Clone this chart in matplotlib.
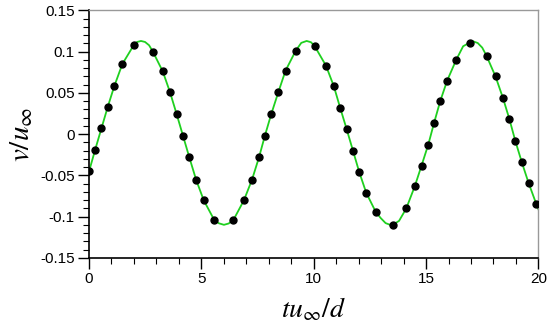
import matplotlib
matplotlib.use("Agg")
import matplotlib.pyplot as plt
from matplotlib.ticker import MultipleLocator

plt.rcParams['font.family'] = ['Liberation Sans', 'DejaVu Sans']
plt.rcParams['mathtext.fontset'] = 'stix'

# Black dots (sampled data)
dot_x = [0.01, 0.28, 0.56, 0.84, 1.13, 1.49, 2.00, 2.85, 3.29, 3.61, 3.91, 4.19,
         4.47, 4.77, 5.11, 5.57, 6.43, 6.90, 7.26, 7.57, 7.83, 8.11, 8.43, 8.75,
         9.20, 10.04, 10.55, 10.90, 11.18, 11.47, 11.75, 12.03, 12.34, 12.76,
         13.51, 14.12, 14.50, 14.80, 15.10, 15.36, 15.63, 15.94, 16.34, 16.94,
         17.69, 18.09, 18.42, 18.70, 18.97, 19.26, 19.56, 19.91]
dot_y = [-0.045, -0.019, 0.007, 0.033, 0.058, 0.085, 0.108, 0.100, 0.076, 0.051,
         0.024, -0.002, -0.028, -0.055, -0.080, -0.1035, -0.104, -0.080, -0.055,
         -0.028, -0.002, 0.024, 0.051, 0.077, 0.101, 0.107, 0.083, 0.058, 0.032,
         0.006, -0.020, -0.046, -0.071, -0.094, -0.110, -0.090, -0.063, -0.038,
         -0.0125, 0.014, 0.040, 0.065, 0.090, 0.111, 0.095, 0.070, 0.044, 0.019,
         -0.008, -0.034, -0.059, -0.085]

# Extra points along the green curve (peaks, troughs, ends)
curve_extra_x = [0.0, 2.15, 2.32, 2.50, 2.68, 5.78, 6.01, 6.22, 9.45, 9.69, 9.88,
                 12.98, 13.20, 13.45, 13.80, 16.65, 17.05, 17.30, 17.50, 20.0]
curve_extra_y = [-0.047, 0.1118, 0.113, 0.1118, 0.1078, -0.1079, -0.1098, -0.1082,
                 0.1107, 0.113, 0.1115, -0.1015, -0.1077, -0.1103, -0.105, 0.1066,
                 0.113, 0.1105, 0.1049, -0.091]

x_ticks = [0, 5, 10, 15, 20]
y_ticks = [-0.15, -0.1, -0.05, 0, 0.05, 0.1, 0.15]
y_ticklabels = ['-0.15', '-0.1', '-0.05', '0', '0.05', '0.1', '0.15']

pts = sorted(zip(dot_x + curve_extra_x, dot_y + curve_extra_y))
line_x = [p[0] for p in pts]
line_y = [p[1] for p in pts]

fig = plt.figure(figsize=(5.5, 3.26), dpi=100)
ax = fig.add_axes([0.1615, 0.2086, 0.8175, 0.7594])

ax.plot(line_x, line_y, color='#1fd01f', lw=1.3, zorder=2)
ax.plot(dot_x, dot_y, 'o', color='black', ms=5, zorder=3)

ax.set_xlim(0, 20)
ax.set_ylim(-0.15, 0.15)
ax.set_xticks(x_ticks)
ax.set_xticklabels([str(t) for t in x_ticks])
ax.set_yticks(y_ticks)
ax.set_yticklabels(y_ticklabels)
ax.xaxis.set_minor_locator(MultipleLocator(1))
ax.yaxis.set_minor_locator(MultipleLocator(0.01))

ax.tick_params(which='major', direction='out', length=8, width=1.0,
               labelsize=11, colors='black', pad=2)
ax.tick_params(which='minor', direction='out', length=4, width=0.8)
ax.tick_params(top=False, right=False, which='both')

for s in ['left', 'bottom']:
    ax.spines[s].set_color('black')
    ax.spines[s].set_linewidth(1.2)
for s in ['top', 'right']:
    ax.spines[s].set_color('#999999')
    ax.spines[s].set_linewidth(1.0)

ax.set_xlabel(r'$tu_{\infty}/d$', fontsize=20, labelpad=7)
ax.set_ylabel(r'$v/u_{\infty}$', fontsize=21, labelpad=4)

fig.savefig('out.png', dpi=100)
